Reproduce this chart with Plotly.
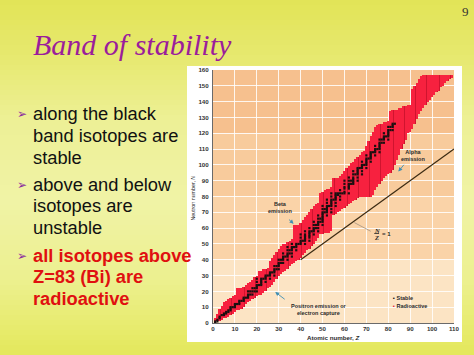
import plotly.graph_objects as go

# ---------------- data ----------------
z_values = list(range(1, 110))

band_high = [3, 6, 9, 11, 13, 14, 15, 16, 17, 18,
             22, 22, 22, 23, 24, 25, 26, 27, 29, 30,
             33, 33, 34, 34, 35, 39, 41, 43, 45, 47,
             49, 50, 50, 51, 52, 53, 62, 62, 62, 63,
             65, 67, 68, 70, 72, 74, 75, 76, 82, 83,
             84, 85, 85, 86, 92, 92, 92, 93, 94, 96,
             98, 99, 101, 102, 104, 105, 106, 108, 109, 112,
             115, 118, 121, 124, 125, 126, 126, 127, 127, 128,
             134, 135, 135, 135, 136, 136, 137, 137, 138, 138,
             148, 150, 152, 154, 156, 157, 157, 157, 157, 157,
             157, 157, 157, 157, 157, 157, 157, 157, 157]

band_low = [0, 1, 1, 2, 3, 3, 4, 5, 6, 7,
            8, 8, 9, 10, 12, 13, 14, 15, 16, 17,
            18, 18, 19, 20, 22, 23, 24, 26, 28, 30,
            31, 32, 33, 34, 36, 37, 38, 39, 40, 41,
            43, 44, 46, 47, 49, 50, 52, 54, 56, 56,
            57, 57, 57, 58, 68, 69, 70, 71, 72, 73,
            74, 75, 76, 77, 78, 79, 80, 80, 80, 80,
            80, 80, 81, 84, 86, 88, 90, 92, 93, 94,
            95, 97, 100, 103, 106, 110, 113, 116, 120, 121,
            123, 126, 129, 132, 134, 136, 138, 140, 141, 143,
            144, 146, 147, 149, 150, 152, 153, 154, 155]

# neutron numbers of stable isotopes, index = Z - 1 (Z = 1 .. 83)
stable_n_by_z = [
    [0, 1], [1, 2], [3, 4], [5], [5, 6], [6, 7], [7, 8], [8, 9, 10], [10], [10, 11, 12],
    [12], [12, 13, 14], [14], [14, 15, 16], [16], [16, 17, 18, 20], [18, 20], [18, 20, 22], [20, 22], [20, 22, 23, 24, 26, 28],
    [24], [24, 25, 26, 27, 28], [28], [26, 28, 29, 30], [30], [28, 30, 31, 32], [32], [30, 32, 33, 34, 36], [34, 36], [34, 36, 37, 38, 40],
    [38, 40], [38, 40, 41, 42, 44], [42], [40, 42, 43, 44, 46, 48], [44, 46], [42, 44, 46, 47, 48, 50], [48], [46, 48, 49, 50], [50], [50, 51, 52, 54, 56],
    [52], [50, 52, 53, 54, 55, 56, 58], [], [52, 54, 55, 56, 57, 58, 60], [58], [56, 58, 59, 60, 62, 64], [60, 62], [58, 60, 62, 63, 64, 66, 68], [64, 66], [62, 64, 65, 66, 67, 68, 69, 70, 72, 74],
    [70, 72], [68, 70, 71, 72, 73, 74, 76, 78], [74], [70, 72, 74, 75, 76, 77, 78, 80, 82], [78], [74, 76, 78, 79, 80, 81, 82], [81, 82], [78, 80, 82, 84], [82], [82, 83, 85, 86, 88, 90],
    [], [82, 85, 86, 87, 88, 90, 92], [88, 90], [88, 89, 90, 91, 92, 94, 96], [94], [90, 92, 94, 95, 96, 97, 98], [98], [94, 96, 98, 99, 100, 102], [100], [98, 100, 101, 102, 103, 104, 106],
    [104], [102, 104, 105, 106, 107, 108], [108], [106, 108, 109, 110, 112], [110], [108, 110, 111, 112, 113, 114, 116], [114, 116], [114, 116, 117, 118, 120], [118], [116, 118, 119, 120, 121, 122, 124],
    [122, 124], [122, 124, 125, 126], [126],
]

ratio_line_z = [40, 110]
ratio_line_n = [40, 110]

x_ticks = [0, 10, 20, 30, 40, 50, 60, 70, 80, 90, 100, 110]
y_ticks = [0, 10, 20, 30, 40, 50, 60, 70, 80, 90, 100, 110, 120, 130, 140, 150, 160]

bullet_lines = [
    ["along the black", "band isotopes are", "stable"],
    ["above and below", "isotopes are", "unstable"],
    ["all isotopes above", "Z=83 (Bi) are", "radioactive"],
]

# ---------------- layout helpers ----------------
W, H = 474, 355
ML, MR, MT, MB = 213, 20, 70, 32
PW, PH = W - ML - MR, H - MT - MB


def pxx(x):
    return (x - ML) / PW


def pxy(y):
    return (H - MB - y) / PH


stable_z = []
stable_n = []
for i, ns in enumerate(stable_n_by_z):
    for n in ns:
        stable_z.append(i + 1)
        stable_n.append(n)

band_height = [h - l for h, l in zip(band_high, band_low)]

fig = go.Figure()

# dark red underlay (gaps between the stripes)
fig.add_trace(go.Bar(
    x=z_values, y=band_height, base=band_low, width=1.0,
    marker=dict(color="#d0142f", line=dict(width=0)),
    hoverinfo="skip", showlegend=False,
))
# bright red stripes
fig.add_trace(go.Bar(
    x=z_values, y=band_height, base=band_low, width=0.62,
    marker=dict(color="#f7213f", line=dict(width=0)),
    hoverinfo="skip", showlegend=False,
))

fig.add_trace(go.Scatter(
    x=stable_z, y=stable_n, mode="markers",
    marker=dict(symbol="square", size=2.2, color="#1a1010"),
    hoverinfo="skip", showlegend=False,
))

fig.add_trace(go.Scatter(
    x=ratio_line_z, y=ratio_line_n, mode="lines",
    line=dict(color="#3b2a12", width=1.2),
    hoverinfo="skip", showlegend=False,
))

shapes = []

# slide background gradient
stops = [(0, (226, 228, 87)), (50, (230, 232, 108)), (120, (237, 240, 149)),
         (200, (240, 243, 166)), (280, (236, 240, 143)), (330, (231, 235, 108)),
         (356, (227, 231, 90))]


def col_at(y):
    for (y0, c0), (y1, c1) in zip(stops[:-1], stops[1:]):
        if y0 <= y <= y1:
            t = (y - y0) / (y1 - y0)
            return "rgb(%d,%d,%d)" % tuple(round(a + (b - a) * t) for a, b in zip(c0, c1))
    return "rgb(%d,%d,%d)" % stops[-1][1]


step = 5
for y in range(0, H, step):
    shapes.append(dict(type="rect", xref="paper", yref="paper", layer="below",
                       x0=pxx(0), x1=pxx(W), y0=pxy(y + step + 0.5), y1=pxy(y),
                       fillcolor=col_at(y + step / 2), line=dict(width=0)))

# white panel behind the chart
shapes.append(dict(type="rect", xref="paper", yref="paper", layer="below",
                   x0=pxx(187), x1=pxx(462), y0=pxy(342), y1=pxy(66),
                   fillcolor="#ffffff", line=dict(width=0)))

# plot area shaded bands
bands = [(0, 40, "#fce4c4"), (40, 80, "#fad3a8"), (80, 120, "#f8cb9c"), (120, 160, "#f6c08e")]
for y0, y1, c in bands:
    shapes.append(dict(type="rect", xref="x", yref="y", layer="below",
                       x0=0, x1=110, y0=y0, y1=y1, fillcolor=c, line=dict(width=0)))

# leader line for N/Z = 1 label
shapes.append(dict(type="line", xref="x", yref="y", layer="above",
                   x0=64.5, y0=63.5, x1=72, y1=58, line=dict(color="#9a8a7a", width=0.7)))
# fraction bar
shapes.append(dict(type="line", xref="x", yref="y", layer="above",
                   x0=73.6, y0=56.6, x1=75.8, y1=56.6, line=dict(color="#222", width=0.8)))

ann = []
lab_font = dict(family="Liberation Sans", size=5.5, color="#2a2a2a", weight="bold")

ann.append(dict(x=30.7, y=73.3, xref="x", yref="y", text="Beta<br>emission", showarrow=False,
                font=lab_font, align="center"))
ann.append(dict(x=91.5, y=105.7, xref="x", yref="y", text="Alpha<br>emission", showarrow=False,
                font=lab_font, align="center"))
ann.append(dict(x=48.2, y=8.6, xref="x", yref="y", text="Positron emission or<br>electron capture",
                showarrow=False, font=lab_font, align="center"))

arrow_kw = dict(xref="x", yref="y", axref="x", ayref="y", text="", showarrow=True,
                arrowhead=2, arrowsize=0.9, arrowwidth=0.9, arrowcolor="#3f8fb3")
ann.append(dict(x=36.8, y=62.7, ax=34.0, ay=66.3, **arrow_kw))
ann.append(dict(x=84.6, y=95.8, ax=87.7, ay=101.0, **arrow_kw))
ann.append(dict(x=28.4, y=19.6, ax=33.4, ay=14.3, **arrow_kw))

frac_font = dict(family="Liberation Serif", size=6.5, color="#222", weight="bold")
ann.append(dict(x=74.7, y=58.8, xref="x", yref="y", text="<i>N</i>", showarrow=False, font=frac_font))
ann.append(dict(x=74.7, y=54.3, xref="x", yref="y", text="<i>Z</i>", showarrow=False, font=frac_font))
ann.append(dict(x=76.3, y=56.5, xref="x", yref="y", text="= 1", showarrow=False, xanchor="left",
                font=dict(family="Liberation Sans", size=6, color="#222", weight="bold")))

ann.append(dict(x=81.3, y=16.0, xref="x", yref="y", xanchor="left",
                text="<span style='color:#111'>\u25aa</span> Stable", showarrow=False, font=lab_font))
ann.append(dict(x=81.3, y=10.7, xref="x", yref="y", xanchor="left",
                text="<span style='color:#e0203a'>\u25aa</span> Radioactive", showarrow=False, font=lab_font))

# axis titles
ann.append(dict(x=pxx(333), y=pxy(337.5), xref="paper", yref="paper",
                xanchor="center", yanchor="middle",
                text="Atomic number, <i>Z</i>", showarrow=False,
                font=dict(family="Liberation Sans", size=6.2, color="#2a2a2a", weight="bold")))
ann.append(dict(x=pxx(192.6), y=pxy(198), xref="paper", yref="paper", textangle=-90,
                xanchor="center", yanchor="middle",
                text="Neutron number, <i>N</i>", showarrow=False,
                font=dict(family="Liberation Sans", size=5.3, color="#2a2a2a")))

# slide title and page number
ann.append(dict(x=pxx(31), y=pxy(45), xref="paper", yref="paper", xanchor="left", yanchor="middle",
                text="<i>Band of stability</i>", showarrow=False,
                font=dict(family="Liberation Serif", size=30, color="#9b1d9b")))
ann.append(dict(x=pxx(465), y=pxy(11), xref="paper", yref="paper", xanchor="center", yanchor="middle",
                text="9", showarrow=False,
                font=dict(family="Liberation Serif", size=13, color="#333")))

# bullet text
line_y = [[113, 135, 157], [184, 205.5, 227], [255, 276.5, 298]]
for bi, (lines, ys) in enumerate(zip(bullet_lines, line_y)):
    red = bi == 2
    ann.append(dict(x=pxx(22), y=pxy(ys[0] + 0.5), xref="paper", yref="paper", xanchor="center",
                    yanchor="middle", text="\u27a2", showarrow=False,
                    font=dict(family="DejaVu Sans", size=12, color="#8c2e9e")))
    for txt, yy in zip(lines, ys):
        ann.append(dict(x=pxx(31), y=pxy(yy), xref="paper", yref="paper", xanchor="left",
                        yanchor="middle", text=txt, showarrow=False,
                        font=dict(family="Liberation Sans", size=18.3,
                                  color="#e01010" if red else "#111111",
                                  weight="bold" if red else "normal")))

tick_font = dict(family="Liberation Sans", size=6.2, color="#333333", weight="bold")

fig.update_layout(
    width=W, height=H,
    margin=dict(l=ML, r=MR, t=MT, b=MB, pad=0),
    paper_bgcolor="#e6e86c",
    plot_bgcolor="rgba(0,0,0,0)",
    shapes=shapes,
    annotations=ann,
    barmode="overlay",
    bargap=0,
    xaxis=dict(range=[0, 110], tickmode="array", tickvals=x_ticks, ticktext=[str(v) for v in x_ticks],
               showgrid=True, gridcolor="rgba(255,255,255,0.85)", gridwidth=1,
               zeroline=False, showline=True, linecolor="#6a6a6a", linewidth=1,
               ticks="", tickfont=tick_font, ticklabelstandoff=0, fixedrange=True),
    yaxis=dict(range=[0, 160], tickmode="array", tickvals=y_ticks, ticktext=[str(v) for v in y_ticks],
               showgrid=True, gridcolor="rgba(255,255,255,0.85)", gridwidth=1,
               zeroline=False, showline=True, linecolor="#6a6a6a", linewidth=1,
               ticks="", tickfont=tick_font, ticklabelstandoff=2, fixedrange=True),
)

fig.write_html("out.html", config={"displayModeBar": False},
               post_script="document.body.style.margin='0px';document.body.style.overflow='hidden';")
